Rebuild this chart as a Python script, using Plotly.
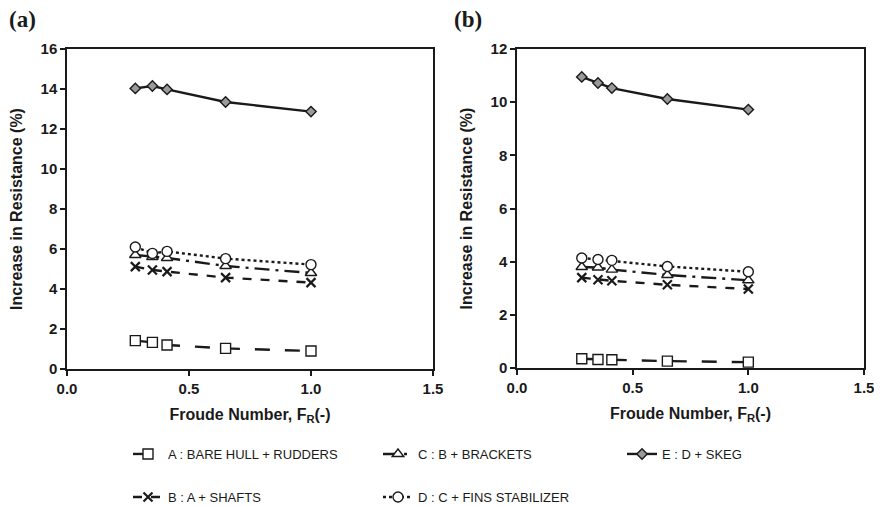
import plotly.graph_objects as go

froude = [0.28, 0.35, 0.41, 0.65, 1.0]

# Panel (a)
a_A = [1.42, 1.33, 1.20, 1.03, 0.90]
a_B = [5.12, 4.95, 4.87, 4.57, 4.32]
a_C = [5.70, 5.60, 5.55, 5.15, 4.80]
a_D = [6.10, 5.78, 5.88, 5.52, 5.22]
a_E = [14.03, 14.15, 13.98, 13.35, 12.87]

# Panel (b)
b_A = [0.35, 0.32, 0.31, 0.26, 0.22]
b_B = [3.40, 3.32, 3.28, 3.13, 2.97]
b_C = [3.80, 3.78, 3.70, 3.50, 3.30]
b_D = [4.14, 4.08, 4.05, 3.82, 3.62]
b_E = [10.95, 10.72, 10.53, 10.12, 9.72]

names = {
    "A": "A : BARE HULL + RUDDERS",
    "B": "B : A + SHAFTS",
    "C": "C : B + BRACKETS",
    "D": "D : C + FINS STABILIZER",
    "E": "E : D + SKEG",
}

INK = "#1a1a1a"
styles = {
    "A": dict(dash="longdash", symbol="square", fill="white", size=10),
    "B": dict(dash="dash", symbol="x-thin", fill=INK, size=9),
    "C": dict(dash="longdashdot", symbol="triangle-up", fill="white", size=10),
    "D": dict(dash="dot", symbol="circle", fill="white", size=10),
    "E": dict(dash="solid", symbol="diamond", fill="#9a9a9a", size=8),
}
legend_of = {"A": "legend", "C": "legend2", "E": "legend3", "B": "legend4", "D": "legend5"}

W, H = 882, 506
OFF = 8  # page body margin offset


def fx(px):
    return (px - OFF) / W


def fy(py):
    return 1 - (py - OFF) / H


fig = go.Figure()
panels = [("x", "y", {"A": a_A, "B": a_B, "C": a_C, "D": a_D, "E": a_E}, True),
          ("x2", "y2", {"A": b_A, "B": b_B, "C": b_C, "D": b_D, "E": b_E}, False)]
for xa, ya, data, show in panels:
    for key in ["A", "C", "E", "B", "D"]:
        s = styles[key]
        mline = dict(color=INK, width=2.2 if key == "B" else 1.4)
        fig.add_trace(go.Scatter(
            x=froude, y=data[key], xaxis=xa, yaxis=ya, mode="lines+markers",
            name=names[key], showlegend=show, legend=legend_of[key],
            line=dict(color=INK, width=2.4, dash=s["dash"]),
            marker=dict(symbol=s["symbol"], size=s["size"], color=s["fill"], line=mline),
        ))

SANS = "Arial, Liberation Sans, sans-serif"
axis_font = dict(family=SANS, size=16, color=INK)
tick_font = dict(family=SANS, size=15, color=INK, weight="bold")
common_x = dict(range=[0, 1.5], dtick=0.5, tickformat=".1f", showgrid=False, zeroline=False,
                showline=True, mirror=True, linecolor=INK, linewidth=1.5, automargin=False,
                ticks="outside", ticklen=5, tickwidth=1.5, tickcolor=INK, tickfont=tick_font,
                title=dict(text="<b>Froude Number, F<sub>R</sub>(-)</b>", font=axis_font, standoff=13))
common_y = dict(showgrid=False, zeroline=False, showline=True, mirror=True, linecolor=INK, linewidth=1.5,
                ticks="outside", ticklen=5, tickwidth=1.5, tickcolor=INK, tickfont=tick_font,
                automargin=False,
                title=dict(text="<b>Increase in Resistance (%)</b>", font=axis_font, standoff=14))


def leg(xpix, ypix):
    return dict(orientation="h", x=xpix / W, xanchor="left", y=1 - ypix / H, yanchor="middle",
                xref="container", yref="container", itemwidth=30,
                font=dict(family=SANS, size=13, color=INK), bgcolor="rgba(0,0,0,0)")


fig.update_layout(
    width=W, height=H, margin=dict(l=0, r=0, t=0, b=0, autoexpand=False),
    paper_bgcolor="white", plot_bgcolor="white",
    xaxis=dict(domain=[fx(67), fx(433)], anchor="y", **common_x),
    yaxis=dict(domain=[fy(369), fy(49)], anchor="x", range=[0, 16], dtick=2, **common_y),
    xaxis2=dict(domain=[fx(517), fx(864)], anchor="y2", **common_x),
    yaxis2=dict(domain=[fy(368), fy(49)], anchor="x2", range=[0, 12], dtick=2, **common_y),
    legend=leg(120, 446),
    legend2=leg(370, 446),
    legend3=leg(614, 446),
    legend4=leg(120, 489),
    legend5=leg(370, 489),
    annotations=[
        dict(text="<b>(a)</b>", x=fx(7), y=fy(20), xref="paper", yref="paper", xanchor="left",
             yanchor="middle", showarrow=False,
             font=dict(family="Liberation Serif, Times New Roman, serif", size=23, color=INK)),
        dict(text="<b>(b)</b>", x=fx(452), y=fy(20), xref="paper", yref="paper", xanchor="left",
             yanchor="middle", showarrow=False,
             font=dict(family="Liberation Serif, Times New Roman, serif", size=23, color=INK)),
    ],
)

fig.write_html("out.html")
